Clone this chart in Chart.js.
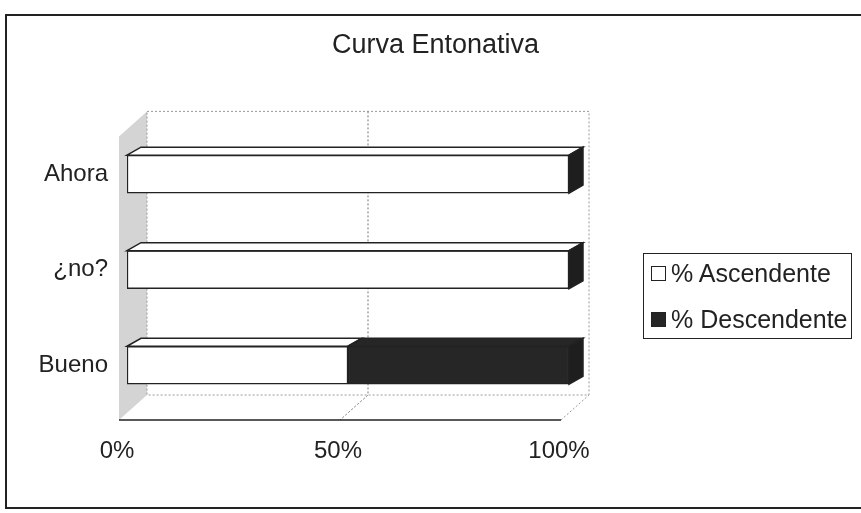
<!DOCTYPE html>
<html>
<head>
<meta charset="utf-8">
<script src="https://cdn.jsdelivr.net/npm/chart.js@4"></script>
<style>
  body { margin: 0; background: #fff; }
  #wrap { position: relative; width: 861px; height: 513px; }
  #frame { position: absolute; left: 5px; top: 14px; width: 860px; height: 495px; border: 2px solid #222; box-sizing: border-box; pointer-events: none; }
  #legend { position: absolute; left: 643px; top: 253px; width: 209px; height: 86px; border: 1.5px solid #222; box-sizing: border-box; font-family: Arial, 'Liberation Sans', sans-serif; font-size: 25px; color: #222; }
  #legend div { position: absolute; left: 7px; height: 30px; line-height: 30px; white-space: nowrap; }
  #legend span.box { display: inline-block; width: 13px; height: 13px; border: 1.5px solid #222; margin-right: 5px; vertical-align: 1px; }
</style>
</head>
<body>
<div id="wrap">
  <canvas id="chart" width="861" height="513"></canvas>
  <div id="frame"></div>
  <div id="legend"></div>
</div>
<script>
const categories = ['Ahora', '¿no?', 'Bueno'];
const seriesNames = ['% Ascendente', '% Descendente'];
const ascendente = [100, 100, 50];
const descendente = [0, 0, 50];
const xTicks = [0, 50, 100];
const colors = ['#ffffff', '#262626'];

const FONT = "Arial, 'Liberation Sans', sans-serif";

// legend (html, built from the series names)
const legendEl = document.getElementById('legend');
seriesNames.forEach((name, i) => {
    const row = document.createElement('div');
    row.style.top = (i === 0 ? 4 : 50) + 'px';
    row.innerHTML = '<span class="box" style="background:' + colors[i] + '"></span>' + name;
    legendEl.appendChild(row);
});

// fake 3d: walls, floor and bar depth
const wallDx = 28, wallDy = -25;
const barDx = 14, barDy = -8;

const boxPlugin = {
    id: 'box3d',
    beforeDatasetsDraw(chart) {
        const ctx = chart.ctx;
        const a = chart.chartArea;
        const xs = chart.scales.x;
        const fl = a.left - 8, fr = a.right - 8, ft = a.top + 10, fb = a.bottom + 7;
        ctx.save();
        // left wall
        ctx.fillStyle = '#d4d4d4';
        ctx.beginPath();
        ctx.moveTo(fl, ft); ctx.lineTo(fl + wallDx, ft + wallDy);
        ctx.lineTo(fl + wallDx, fb + wallDy); ctx.lineTo(fl, fb);
        ctx.closePath(); ctx.fill();
        // back wall outline
        ctx.strokeStyle = '#9a9a9a';
        ctx.lineWidth = 1;
        ctx.setLineDash([2, 2]);
        ctx.strokeRect(fl + wallDx, ft + wallDy, fr - fl, fb - ft);
        // gridlines on back wall + floor
        xTicks.slice(1, -1).forEach(v => {
            const px = xs.getPixelForValue(v) - 8;
            ctx.strokeStyle = '#777';
            ctx.beginPath();
            ctx.moveTo(px + wallDx, ft + wallDy); ctx.lineTo(px + wallDx, fb + wallDy);
            ctx.lineTo(px, fb);
            ctx.stroke();
        });
        ctx.strokeStyle = '#999';
        ctx.beginPath();
        ctx.moveTo(fr, fb); ctx.lineTo(fr + wallDx, fb + wallDy);
        ctx.stroke();
        ctx.setLineDash([]);
        // floor front edge
        ctx.strokeStyle = '#222';
        ctx.lineWidth = 1.5;
        ctx.beginPath();
        ctx.moveTo(fl, fb); ctx.lineTo(fr, fb);
        ctx.stroke();
        ctx.restore();
    },
    afterDatasetsDraw(chart) {
        const ctx = chart.ctx;
        ctx.save();
        ctx.lineWidth = 1.5;
        ctx.strokeStyle = '#222';
        const n = chart.data.datasets.length;
        chart.data.labels.forEach((_, idx) => {
            let last = null;
            for (let d = 0; d < n; d++) {
                const el = chart.getDatasetMeta(d).data[idx];
                const p = el.getProps(['x', 'y', 'base', 'height'], true);
                if (Math.abs(p.x - p.base) < 0.5) continue;
                const top = p.y - p.height / 2;
                ctx.fillStyle = colors[d];
                ctx.beginPath();
                ctx.moveTo(p.base, top); ctx.lineTo(p.base + barDx, top + barDy);
                ctx.lineTo(p.x + barDx, top + barDy); ctx.lineTo(p.x, top);
                ctx.closePath(); ctx.fill(); ctx.stroke();
                last = p;
            }
            if (last) {
                const top = last.y - last.height / 2, bot = last.y + last.height / 2;
                ctx.fillStyle = '#1e1e1e';
                ctx.beginPath();
                ctx.moveTo(last.x, top); ctx.lineTo(last.x + barDx, top + barDy);
                ctx.lineTo(last.x + barDx, bot + barDy); ctx.lineTo(last.x, bot);
                ctx.closePath(); ctx.fill(); ctx.stroke();
            }
        });
        ctx.restore();
    }
};

new Chart(document.getElementById('chart').getContext('2d'), {
    type: 'bar',
    data: {
        labels: categories,
        datasets: [
            { label: seriesNames[0], data: ascendente, backgroundColor: colors[0], borderColor: '#222', borderWidth: 1.5, borderSkipped: false, barThickness: 38 },
            { label: seriesNames[1], data: descendente, backgroundColor: colors[1], borderColor: '#222', borderWidth: 1.5, borderSkipped: false, barThickness: 38 }
        ]
    },
    options: {
        indexAxis: 'y',
        responsive: false,
        animation: false,
        layout: { padding: { left: 10, right: 0, top: 29, bottom: 0 } },
        scales: {
            x: {
                stacked: true,
                min: 0,
                max: 100,
                afterBuildTicks(scale) { scale.ticks = xTicks.map(v => ({ value: v })); },
                afterFit(scale) { scale.height = 513 - 413; },
                grid: { display: false, drawTicks: false },
                border: { display: false },
                ticks: {
                    padding: 24,
                    labelOffset: -10,
                    color: '#222',
                    font: { family: FONT, size: 24 },
                    callback: v => v + '%'
                }
            },
            y: {
                stacked: true,
                afterFit(scale) { scale.width = 117; },
                grid: { display: false, drawTicks: false },
                border: { display: false },
                ticks: {
                    padding: 19,
                    color: '#222',
                    font: { family: FONT, size: 24 }
                }
            },
            // empty right axis: reserves the room where the legend sits
            yRoom: {
                position: 'right',
                afterFit(scale) { scale.width = 861 - 569; },
                grid: { display: false, drawTicks: false },
                border: { display: false },
                ticks: { display: false }
            }
        },
        plugins: {
            legend: { display: false },
            tooltip: { enabled: false },
            title: {
                display: true,
                text: 'Curva Entonativa',
                color: '#222',
                font: { family: FONT, size: 27, weight: 'normal' },
                padding: { top: 0, bottom: 65 }
            }
        }
    },
    plugins: [boxPlugin]
});
</script>
</body>
</html>
